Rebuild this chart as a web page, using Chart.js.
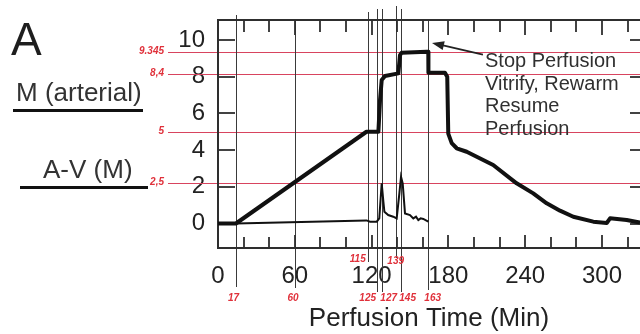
<!DOCTYPE html>
<html>
<head>
<meta charset="utf-8">
<script src="https://cdn.jsdelivr.net/npm/chart.js@4.4.1/dist/chart.umd.min.js"></script>
<style>
  html, body { margin: 0; padding: 0; background: #fff; }
  #wrap { width: 640px; height: 334px; position: relative; }
</style>
</head>
<body>
<div id="wrap"><canvas id="perfusion"></canvas></div>
<script>
// valores (minutos / M)
const arterialTime = [0, 14, 116, 125.3, 126.6, 127.9, 130.5, 140.9, 142.2, 143.5,
  163, 164.3, 164.4, 177.3, 179.1, 179.9, 182.6, 186.5, 194.3, 215,
  233.3, 246.3, 256.8, 267.2, 277.6, 293.2, 303.7, 306.3, 319.3, 329.7];
const arterialM = [0, 0, 5, 5, 6.73, 7.82, 8.04, 8.18, 9.18, 9.31,
  9.36, 9.36, 8.22, 8.22, 8.0, 4.9, 4.38, 4.1, 3.91, 3.19,
  2.19, 1.64, 1.1, 0.7, 0.37, 0.1, 0.03, 0.28, 0.19, 0.05];

const avTime = [0, 14, 116, 118.8, 124, 126, 127.9, 129.2, 130, 133,
  136.9, 139.6, 141.7, 143, 144.3, 146.1, 150, 152.6, 154.7, 156.5,
  158.3, 160.4, 164.3];
const avM = [0, 0, 0.17, 0.1, 0.1, 0.28, 2.19, 1.2, 0.64, 0.46,
  0.37, 0.28, 1.64, 2.55, 2.19, 0.55, 0.46, 0.28, 0.37, 0.19,
  0.28, 0.25, 0.1];

// ejes
const xTicks = [0, 60, 120, 180, 240, 300];
const yTicks = [0, 2, 4, 6, 8, 10];

// anotaciones en rojo
const refLevels = [9.345, 8.13, 5, 2.2];
const refLabels = ["9.345", "8,4", "5", "2,5"];
const markerTimes = [13.7, 60.2, 117, 124, 127.9, 138.8, 142.7, 163.8];
const markerLabels = ["17", "60", "115", "125", "127", "139", "145", "163"];

const noteLines = ["Stop Perfusion", "Vitrify, Rewarm", "Resume", "Perfusion"];

const FONT = '"Liberation Sans", Arial, sans-serif';

function toPoints(xs, ys) {
  return xs.map((t, i) => ({ x: t, y: ys[i] }));
}

function seg(ctx, x1, y1, x2, y2) {
  ctx.beginPath();
  ctx.moveTo(x1, y1);
  ctx.lineTo(x2, y2);
  ctx.stroke();
}

// === marco, ticks interiores y lineas de referencia ===
const figureAnnotations = {
  id: "figureAnnotations",
  beforeDatasetsDraw(chart) {
    const { ctx, chartArea: a, scales: { x, y } } = chart;
    ctx.save();

    // lineas rojas horizontales
    ctx.strokeStyle = "#d8445f";
    ctx.lineWidth = 1;
    refLevels.forEach(v => {
      const py = Math.round(y.getPixelForValue(v)) + 0.5;
      seg(ctx, 168, py, a.right, py);
    });

    // lineas verticales de marcas
    const ext = [[15, 287], [20, 288], [12, 262], [9, 292], [9, 292], [6, 258], [9, 292], [20, 290]];
    ctx.strokeStyle = "#3a3a3a";
    ctx.lineWidth = 1;
    markerTimes.forEach((t, i) => {
      const px = Math.round(x.getPixelForValue(t)) + 0.5;
      seg(ctx, px, ext[i][0], px, ext[i][1]);
    });

    // marco
    ctx.strokeStyle = "#2e2e2e";
    ctx.lineWidth = 2;
    ctx.beginPath();
    ctx.moveTo(a.right, a.top);
    ctx.lineTo(a.left, a.top);
    ctx.lineTo(a.left, a.bottom);
    ctx.lineTo(a.right, a.bottom);
    ctx.stroke();

    // ticks hacia dentro
    ctx.lineWidth = 1.8;
    for (let t = 20; t <= x.max; t += 20) {
      const px = Math.round(x.getPixelForValue(t));
      const major = t % 60 === 0;
      seg(ctx, px, a.top, px, a.top + (major ? 15 : 12));
      seg(ctx, px, a.bottom, px, a.bottom - (major ? 13 : 11));
    }
    yTicks.forEach(v => {
      const py = Math.round(y.getPixelForValue(v));
      seg(ctx, a.left, py, a.left + 17, py);
      seg(ctx, a.right - 10, py, a.right, py);
    });
    ctx.restore();
  },
  afterDraw(chart) {
    const { ctx, scales: { x, y } } = chart;
    ctx.save();

    // panel izquierdo
    ctx.fillStyle = "#1e1e1e";
    ctx.textBaseline = "alphabetic";
    ctx.textAlign = "left";
    ctx.font = "46px " + FONT;
    ctx.fillText("A", 11, 55);
    ctx.font = "26px " + FONT;
    ctx.fillStyle = "#333";
    ctx.fillText("M (arterial)", 16, 101);
    ctx.fillText("A-V (M)", 43, 178);
    ctx.strokeStyle = "#111";
    ctx.lineWidth = 3;
    seg(ctx, 13, 110.5, 143, 110.5);
    seg(ctx, 20, 187.5, 148, 187.5);

    // etiquetas rojas
    ctx.fillStyle = "#e0313b";
    ctx.font = "italic bold 10px " + FONT;
    ctx.textAlign = "right";
    ctx.textBaseline = "middle";
    refLevels.forEach((v, i) => {
      ctx.fillText(refLabels[i], 164, y.getPixelForValue(v) - 1);
    });
    const lab = [[-2, 298], [-2, 298], [-10, 259], [-9, 298], [7, 298], [0, 261], [7, 298], [5, 298]];
    ctx.textAlign = "center";
    markerTimes.forEach((t, i) => {
      ctx.fillText(markerLabels[i], x.getPixelForValue(t) + lab[i][0], lab[i][1]);
    });

    // flecha y nota
    const tipX = x.getPixelForValue(167.2), tipY = y.getPixelForValue(9.84);
    const tailX = x.getPixelForValue(207), tailY = y.getPixelForValue(9.2);
    ctx.strokeStyle = "#222";
    ctx.fillStyle = "#222";
    ctx.lineWidth = 1.8;
    const ang = Math.atan2(tipY - tailY, tipX - tailX);
    seg(ctx, tailX, tailY, tipX - 8 * Math.cos(ang), tipY - 8 * Math.sin(ang));
    ctx.beginPath();
    ctx.moveTo(tipX, tipY);
    ctx.lineTo(tipX - 12 * Math.cos(ang) + 4.5 * Math.sin(ang), tipY - 12 * Math.sin(ang) - 4.5 * Math.cos(ang));
    ctx.lineTo(tipX - 12 * Math.cos(ang) - 4.5 * Math.sin(ang), tipY - 12 * Math.sin(ang) + 4.5 * Math.cos(ang));
    ctx.closePath();
    ctx.fill();

    ctx.fillStyle = "#303030";
    ctx.font = "20px " + FONT;
    ctx.textAlign = "left";
    ctx.textBaseline = "alphabetic";
    const nx = x.getPixelForValue(208.6);
    const ny = y.getPixelForValue(8.53);
    noteLines.forEach((s, i) => ctx.fillText(s, nx, ny + i * 22.7));
    ctx.restore();
  },
};

new Chart(document.getElementById("perfusion"), {
  type: "line",
  data: {
    datasets: [
      {
        label: "M (arterial)",
        data: toPoints(arterialTime, arterialM),
        borderColor: "#111",
        borderWidth: 4,
        pointRadius: 0,
        tension: 0,
        borderJoinStyle: "round",
        fill: false,
      },
      {
        label: "A-V (M)",
        data: toPoints(avTime, avM),
        borderColor: "#111",
        borderWidth: 2,
        pointRadius: 0,
        tension: 0,
        fill: false,
      },
    ],
  },
  options: {
    responsive: true,
    maintainAspectRatio: false,
    devicePixelRatio: 1,
    animation: false,
    layout: { padding: { top: 20, right: 0, left: 0, bottom: 0 } },
    plugins: { legend: { display: false }, tooltip: { enabled: false } },
    scales: {
      x: {
        type: "linear",
        min: 0,
        max: 329.7,
        afterBuildTicks: s => { s.ticks = xTicks.map(v => ({ value: v })); },
        afterFit: s => { s.height = 86; s.paddingLeft = 0; s.paddingRight = 0; },
        grid: { display: false, drawTicks: false },
        border: { display: false },
        ticks: {
          autoSkip: false,
          maxRotation: 0,
          padding: 14,
          color: "#222",
          font: { family: FONT, size: 24 },
        },
        title: {
          display: true,
          text: "Perfusion Time (Min)",
          color: "#222",
          font: { family: FONT, size: 26 },
          padding: { top: 0, bottom: 0 },
        },
      },
      y: {
        type: "linear",
        min: -1.335,
        max: 11.09,
        afterBuildTicks: s => { s.ticks = yTicks.map(v => ({ value: v })); },
        afterFit: s => { s.width = 218; s.paddingTop = 0; s.paddingBottom = 0; },
        grid: { display: false, drawTicks: false },
        border: { display: false },
        ticks: {
          padding: 13,
          color: "#222",
          font: { family: FONT, size: 24 },
        },
      },
    },
  },
  plugins: [figureAnnotations],
});
</script>
</body>
</html>
